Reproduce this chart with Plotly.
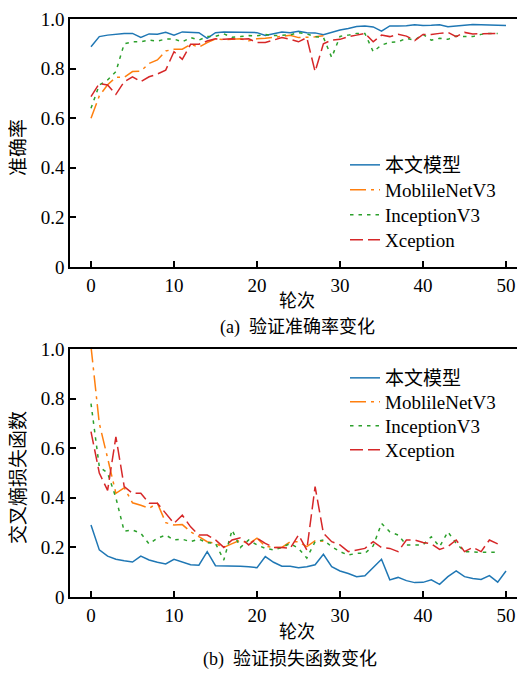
import plotly.graph_objects as go

# page body has an 8px margin: figure is drawn 8px smaller and coordinates are offset
OFF = 8
W, H = 525 - OFF, 673 - OFF

epochs_full = list(range(51))
epochs_49 = list(range(50))
epochs_28 = list(range(29))

series_names = ["本文模型", "MoblileNetV3", "InceptionV3", "Xception"]

acc_ours = [0.888, 0.929, 0.935, 0.940, 0.942, 0.942, 0.926, 0.940, 0.939, 0.946,
            0.935, 0.948, 0.946, 0.945, 0.922, 0.945, 0.948, 0.947, 0.944, 0.944,
            0.945, 0.934, 0.940, 0.948, 0.945, 0.951, 0.945, 0.944, 0.937, 0.948,
            0.956, 0.962, 0.970, 0.972, 0.968, 0.951, 0.972, 0.972, 0.973, 0.977,
            0.974, 0.975, 0.977, 0.969, 0.972, 0.972, 0.978, 0.977, 0.977, 0.977,
            0.974]
acc_mobile = [0.600, 0.690, 0.735, 0.765, 0.765, 0.788, 0.790, 0.821, 0.835, 0.871,
              0.878, 0.878, 0.898, 0.886, 0.905, 0.920, 0.917, 0.920, 0.920, 0.912,
              0.920, 0.922, 0.926, 0.932, 0.934, 0.925, 0.925, 0.928, 0.932]
acc_incep = [0.640, 0.734, 0.754, 0.788, 0.900, 0.908, 0.908, 0.915, 0.911, 0.919,
             0.919, 0.908, 0.925, 0.915, 0.929, 0.930, 0.940, 0.926, 0.929, 0.933,
             0.932, 0.938, 0.933, 0.936, 0.936, 0.945, 0.940, 0.929, 0.926, 0.845,
             0.930, 0.935, 0.942, 0.942, 0.868, 0.895, 0.906, 0.908, 0.922, 0.915,
             0.938, 0.915, 0.922, 0.918, 0.931, 0.929, 0.929, 0.938, 0.942, 0.942]
acc_xcep = [0.687, 0.740, 0.734, 0.696, 0.747, 0.767, 0.747, 0.767, 0.778, 0.794,
            0.868, 0.837, 0.898, 0.898, 0.911, 0.920, 0.918, 0.920, 0.918, 0.920,
            0.905, 0.905, 0.915, 0.925, 0.918, 0.908, 0.925, 0.788, 0.900, 0.915,
            0.918, 0.929, 0.935, 0.942, 0.908, 0.935, 0.929, 0.938, 0.931, 0.913,
            0.938, 0.938, 0.942, 0.946, 0.929, 0.946, 0.940, 0.940, 0.941, 0.942]

loss_ours = [0.290, 0.190, 0.165, 0.152, 0.146, 0.141, 0.165, 0.149, 0.140, 0.133,
             0.152, 0.141, 0.130, 0.128, 0.183, 0.126, 0.126, 0.126, 0.124, 0.122,
             0.118, 0.163, 0.140, 0.124, 0.124, 0.118, 0.122, 0.130, 0.172, 0.122,
             0.105, 0.095, 0.082, 0.086, 0.118, 0.152, 0.069, 0.079, 0.066, 0.058,
             0.059, 0.069, 0.051, 0.082, 0.105, 0.082, 0.075, 0.071, 0.086, 0.060,
             0.105]
loss_mobile = [1.010, 0.700, 0.560, 0.418, 0.440, 0.380, 0.370, 0.358, 0.378, 0.300,
               0.290, 0.292, 0.263, 0.243, 0.223, 0.216, 0.200, 0.215, 0.229, 0.215,
               0.237, 0.205, 0.200, 0.200, 0.223, 0.223, 0.203, 0.227, 0.225]
loss_incep = [0.780, 0.525, 0.500, 0.400, 0.265, 0.270, 0.257, 0.214, 0.237, 0.250,
              0.230, 0.233, 0.223, 0.233, 0.219, 0.216, 0.149, 0.270, 0.200, 0.230,
              0.210, 0.196, 0.190, 0.200, 0.216, 0.196, 0.157, 0.223, 0.230, 0.203,
              0.183, 0.169, 0.176, 0.176, 0.206, 0.297, 0.263, 0.250, 0.210, 0.210,
              0.210, 0.243, 0.203, 0.263, 0.216, 0.183, 0.180, 0.180, 0.180, 0.180]
loss_xcep = [0.667, 0.500, 0.430, 0.646, 0.445, 0.418, 0.418, 0.378, 0.378, 0.337,
             0.297, 0.330, 0.283, 0.250, 0.250, 0.230, 0.200, 0.230, 0.239, 0.210,
             0.237, 0.216, 0.200, 0.200, 0.196, 0.250, 0.190, 0.445, 0.257, 0.223,
             0.210, 0.183, 0.190, 0.196, 0.223, 0.200, 0.196, 0.183, 0.230, 0.230,
             0.220, 0.214, 0.192, 0.203, 0.230, 0.183, 0.200, 0.183, 0.230, 0.214]

x_ticks = [0, 10, 20, 30, 40, 50]
y_ticks = [0, 0.2, 0.4, 0.6, 0.8, 1.0]
y_ticktext = ["0", "0.2", "0.4", "0.6", "0.8", "1.0"]

colors = ["#1f77b4", "#ff7f0e", "#2ca02c", "#d62728"]
dashes = ["solid", "16px,5px,3px,5px", "3.5px,5px", "13px,5px"]

FONT = "Liberation Serif, Times New Roman, Noto Sans CJK SC, serif"

fig = go.Figure()

top_data = [(epochs_full, acc_ours), (epochs_28, acc_mobile), (epochs_49, acc_incep), (epochs_49, acc_xcep)]
bot_data = [(epochs_full, loss_ours), (epochs_28, loss_mobile), (epochs_49, loss_incep), (epochs_49, loss_xcep)]

for i, (xs, ys) in enumerate(top_data):
    fig.add_trace(go.Scatter(x=xs, y=ys, mode="lines", name=series_names[i],
                             line=dict(color=colors[i], width=1.5, dash=dashes[i]),
                             xaxis="x", yaxis="y", showlegend=True,
                             legend="legend" if i == 0 else f"legend{i+1}"))
for i, (xs, ys) in enumerate(bot_data):
    fig.add_trace(go.Scatter(x=xs, y=ys, mode="lines", name=series_names[i],
                             line=dict(color=colors[i], width=1.5, dash=dashes[i]),
                             xaxis="x2", yaxis="y2", showlegend=True,
                             legend=f"legend{i+5}"))

def px_x(p):
    return (p - OFF) / W

def px_y(p):
    return 1 - (p - OFF) / H

xl = 70
x0 = (70 - 91) / 8.3
x1 = (525 - 91) / 8.3

axis_common = dict(showline=True, linecolor="black", linewidth=1.5, ticks="inside",
                   ticklen=6, tickwidth=1.5, tickcolor="black", showgrid=False,
                   zeroline=False, automargin=False,
                   tickfont=dict(family=FONT, size=19, color="black"))

layout = dict(
    width=W, height=H, margin=dict(l=0, r=0, t=0, b=0, pad=0, autoexpand=False),
    paper_bgcolor="white", plot_bgcolor="white", showlegend=True,
    font=dict(family=FONT, size=19, color="black"),
    xaxis=dict(domain=[px_x(xl), 1], range=[x0, x1], tickvals=x_ticks, mirror=True,
               anchor="y", **axis_common),
    yaxis=dict(domain=[px_y(267), px_y(19)], range=[0, 1], tickvals=y_ticks,
               ticktext=y_ticktext, anchor="x", **axis_common),
    xaxis2=dict(domain=[px_x(xl), 1], range=[x0, x1], tickvals=x_ticks, mirror=True,
                anchor="y2", **axis_common),
    yaxis2=dict(domain=[px_y(597), px_y(349)], range=[0, 1], tickvals=y_ticks,
                ticktext=y_ticktext, anchor="x2", **axis_common),
)

legend_top_y = [165, 190, 215, 240]
legend_bot_y = [378, 402, 426, 450]
LX = 345
for i in range(4):
    key = "legend" if i == 0 else f"legend{i+1}"
    layout[key] = dict(x=px_x(LX), y=px_y(legend_top_y[i]), xanchor="left", yanchor="middle",
                       bgcolor="rgba(0,0,0,0)", borderwidth=0, visible=True,
                       font=dict(family=FONT, size=19, color="black"))
    layout[f"legend{i+5}"] = dict(x=px_x(LX), y=px_y(legend_bot_y[i]), xanchor="left",
                                  yanchor="middle", bgcolor="rgba(0,0,0,0)", borderwidth=0,
                                  visible=True,
                                  font=dict(family=FONT, size=19, color="black"))

fig.update_layout(**layout)

def ann(text, x, y, angle=0, size=19):
    fig.add_annotation(text=text, x=px_x(x), y=px_y(y), xref="paper", yref="paper",
                       showarrow=False, textangle=angle, xanchor="center", yanchor="middle",
                       font=dict(family=FONT, size=size, color="black"))

ann("轮次", 297, 301, size=18)
ann("(a)  验证准确率变化", 297, 327, size=18)
ann("轮次", 297, 632, size=18)
ann("(b)  验证损失函数变化", 290, 659, size=18)
ann("准确率", 18, 148, -90)
ann("交叉熵损失函数", 18, 478, -90)

fig.write_html("out.html")
